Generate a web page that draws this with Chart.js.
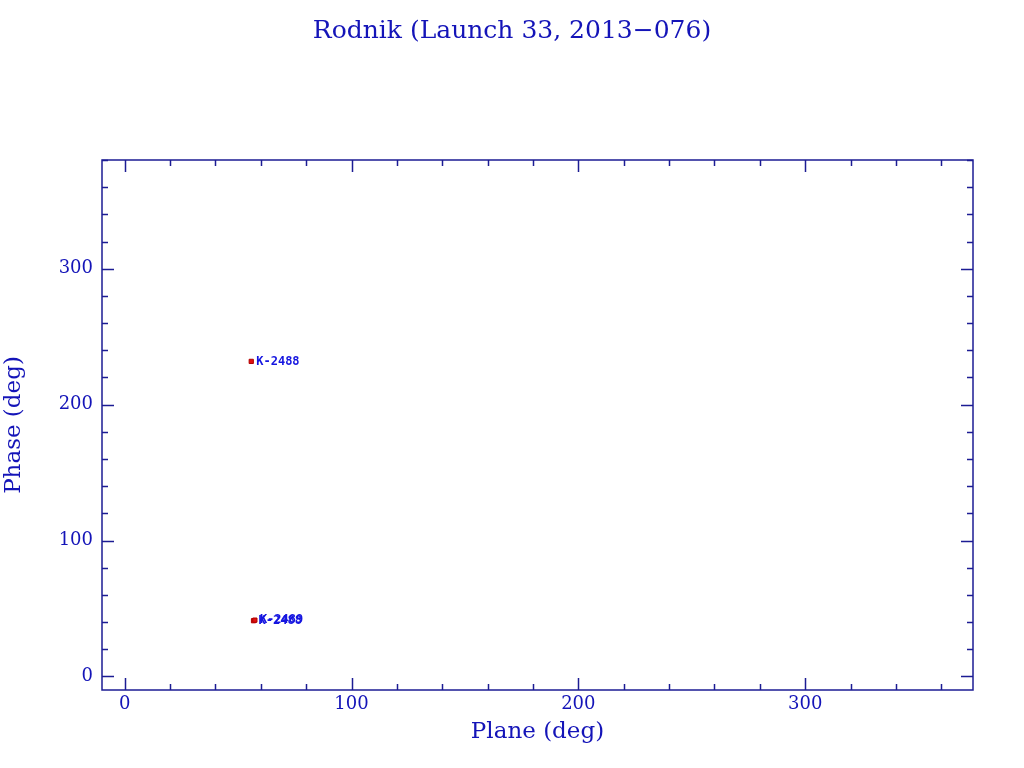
<!DOCTYPE html>
<html>
<head>
<meta charset="utf-8">
<script src="https://cdn.jsdelivr.net/npm/chart.js@4/dist/chart.umd.min.js"></script>
<style>
html,body{margin:0;padding:0;background:#fff;}
#wrap{width:1024px;height:768px;}
</style>
</head>
<body>
<div id="wrap"><canvas id="c" width="1024" height="768"></canvas></div>
<script>
const titleText = 'Rodnik (Launch 33, 2013\u2212076)';
const xTitle = 'Plane (deg)';
const yTitle = 'Phase (deg)';
const objNames = ['K-2488', 'K-2488', 'K-2489'];
const planeDeg = [55.8, 56.8, 57.4];
const phaseDeg = [231.8, 41.0, 41.4];
const xTicks = [0, 100, 200, 300];
const yTicks = [0, 100, 200, 300];
const xRange = [-10, 374];
const yRange = [-10, 380];
const minorStep = 20;

const AXIS = '#1c1c94';
const TXT = '#1414b8';
const FONT = '"DejaVu Serif", "Liberation Serif", serif';

const tickPlugin = {
  id: 'inTicks',
  afterDraw(chart) {
    const ctx = chart.ctx, a = chart.chartArea;
    const xs = chart.scales.x, ys = chart.scales.y;
    ctx.save();
    ctx.strokeStyle = AXIS; ctx.lineWidth = 1.5;
    ctx.beginPath();
    for (let v = Math.ceil(xRange[0]/minorStep)*minorStep; v <= xRange[1]; v += minorStep) {
      const p = Math.round(xs.getPixelForValue(v)) + 0.5;
      const L = (v % 100 === 0) ? 12 : 6;
      ctx.moveTo(p, a.bottom); ctx.lineTo(p, a.bottom - L);
      ctx.moveTo(p, a.top); ctx.lineTo(p, a.top + L);
    }
    for (let v = Math.ceil(yRange[0]/minorStep)*minorStep; v <= yRange[1]; v += minorStep) {
      const p = Math.round(ys.getPixelForValue(v)) + 0.5;
      const L = (v % 100 === 0) ? 12 : 6;
      ctx.moveTo(a.left, p); ctx.lineTo(a.left + L, p);
      ctx.moveTo(a.right, p); ctx.lineTo(a.right - L, p);
    }
    ctx.stroke();
    ctx.strokeRect(a.left, a.top, a.right - a.left, a.bottom - a.top);
    // point labels
    ctx.fillStyle = '#1515e0';
    ctx.font = 'bold 12px "DejaVu Sans Mono", monospace';
    ctx.textBaseline = 'middle';
    const meta = chart.getDatasetMeta(0);
    meta.data.forEach((pt, i) => {
      ctx.fillText(objNames[i], pt.x + 5, pt.y);
    });
    // title
    ctx.fillStyle = TXT;
    ctx.font = '25px ' + FONT;
    ctx.textAlign = 'center';
    ctx.textBaseline = 'middle';
    ctx.fillText(titleText, 512, 31);
    ctx.restore();
  }
};

new Chart(document.getElementById('c'), {
  type: 'scatter',
  data: {
    datasets: [{
      data: planeDeg.map((x, i) => ({x: x, y: phaseDeg[i]})),
      pointStyle: 'rect',
      pointRadius: 3,
      backgroundColor: '#e01010',
      borderColor: '#b00000',
      borderWidth: 1
    }]
  },
  options: {
    responsive: false,
    animation: false,
    devicePixelRatio: 1,
    layout: { padding: { top: 160, right: 51, left: 0, bottom: 0 } },
    plugins: { legend: { display: false }, tooltip: { enabled: false }, title: { display: false } },
    scales: {
      x: {
        type: 'linear', min: xRange[0], max: xRange[1],
        afterBuildTicks(s) { s.ticks = xTicks.map(v => ({value: v})); },
        afterFit(s) { s.height = 78; },
        grid: { display: false, drawTicks: false },
        border: { display: false },
        ticks: { color: TXT, font: { family: FONT, size: 18 }, padding: 4, maxRotation: 0 },
        title: { display: true, text: xTitle, color: TXT, font: { family: FONT, size: 23 }, padding: { top: 2, bottom: 22 } }
      },
      y: {
        type: 'linear', min: yRange[0], max: yRange[1],
        afterBuildTicks(s) { s.ticks = yTicks.map(v => ({value: v})); },
        afterFit(s) { s.width = 102; },
        grid: { display: false, drawTicks: false },
        border: { display: false },
        ticks: { color: TXT, font: { family: FONT, size: 18 }, padding: 9 },
        title: { display: true, text: yTitle, color: TXT, font: { family: FONT, size: 23 }, padding: { top: 0, bottom: 20 } }
      }
    }
  },
  plugins: [tickPlugin]
});
</script>
</body>
</html>
